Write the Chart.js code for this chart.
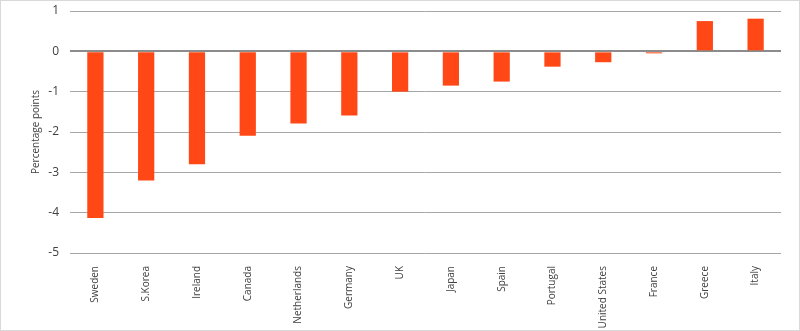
<!DOCTYPE html>
<html>
<head>
<meta charset="utf-8">
<script src="https://cdn.jsdelivr.net/npm/chart.js@4"></script>
<style>
    html, body { margin: 0; padding: 0; background: #fff; }
    #wrap { width: 800px; height: 331px; box-sizing: border-box; border: 1px solid #d9d9d9; }
    #wrap canvas { display: block; }
</style>
</head>
<body>
<div id="wrap"><canvas id="chart-bars" width="798" height="329"></canvas></div>
<script>
    const countries = ["Sweden", "S.Korea", "Ireland", "Canada", "Netherlands", "Germany", "UK",
        "Japan", "Spain", "Portugal", "United States", "France", "Greece", "Italy"];
    const change = [-4.13, -3.2, -2.8, -2.09, -1.79, -1.59, -1.0, -0.85, -0.75, -0.38, -0.27, -0.05, 0.75, 0.81];
    const yTicks = [1, 0, -1, -2, -3, -4, -5];

    var ctx = document.getElementById("chart-bars").getContext("2d");

    new Chart(ctx, {
        type: "bar",
        data: {
            labels: countries,
            datasets: [{
                label: "Change",
                data: change,
                backgroundColor: "#ff4815",
                borderWidth: 0,
                categoryPercentage: 1,
                barPercentage: 0.32
            }]
        },
        options: {
            responsive: false,
            animation: false,
            layout: {
                padding: { left: 0, right: 18, top: 10, bottom: 0 }
            },
            plugins: {
                legend: { display: false },
                tooltip: { enabled: false }
            },
            scales: {
                x: {
                    grid: { display: false },
                    border: { display: false },
                    ticks: {
                        minRotation: 90,
                        maxRotation: 90,
                        autoSkip: false,
                        padding: 5,
                        color: "#404040",
                        font: { family: "Open Sans", size: 10 }
                    },
                    afterFit: function (scale) { scale.height = 77; }
                },
                y: {
                    min: Math.min(...yTicks),
                    max: Math.max(...yTicks),
                    afterBuildTicks: function (scale) {
                        scale.ticks = yTicks.map(v => ({ value: v }));
                    },
                    border: { display: false },
                    grid: {
                        drawTicks: false,
                        color: ctx => ctx.tick && ctx.tick.value === 0 ? "#8c8c8c" : "#a6a6a6",
                        lineWidth: ctx => ctx.tick && ctx.tick.value === 0 ? 2 : 1
                    },
                    ticks: {
                        padding: 11,
                        color: "#404040",
                        font: { family: "Open Sans", size: 12 }
                    },
                    title: {
                        display: true,
                        text: "Percentage points",
                        color: "#404040",
                        padding: { top: 29, bottom: 2 },
                        font: { family: "Open Sans", size: 10 }
                    },
                    afterFit: function (scale) {
                        scale.width = 69;
                        scale.paddingTop = 0;
                        scale.paddingBottom = 0;
                    }
                }
            }
        }
    });
</script>
</body>
</html>
